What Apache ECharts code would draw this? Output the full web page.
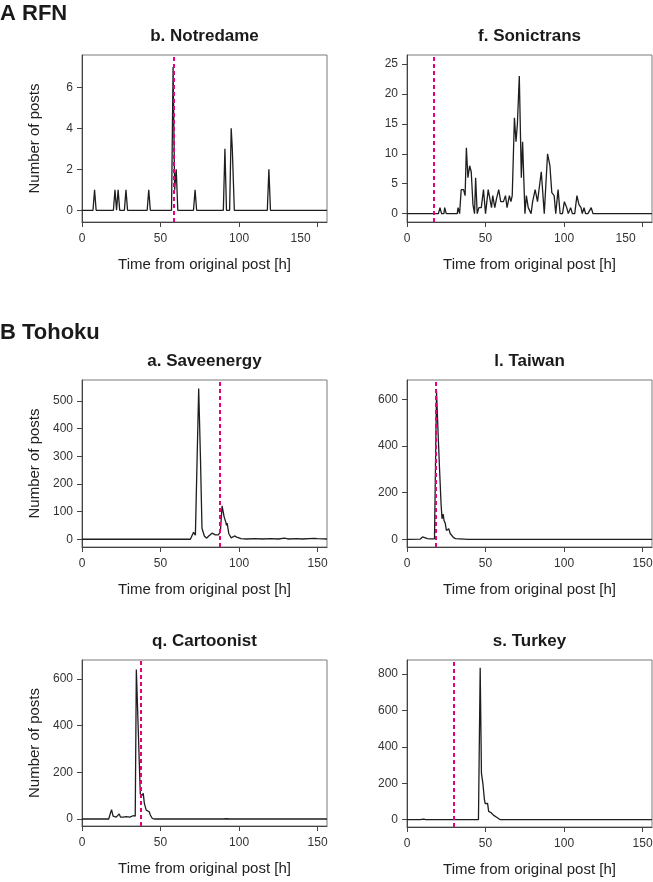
<!DOCTYPE html>
<html>
<head>
<meta charset="utf-8">
<script src="https://cdn.jsdelivr.net/npm/echarts@6/dist/echarts.min.js"></script>
<style>
  html, body { margin: 0; padding: 0; background: #fff; }
  #main { width: 653px; height: 882px; }
</style>
</head>
<body>
<div id="main"></div>
<script>
// hours from original post / number of posts
const notreHours = [0, 7, 8, 9, 20, 21, 22, 23, 24, 27, 28, 29, 41.5, 42.5, 43.5, 57, 58, 59, 60, 61, 71, 72, 73, 90, 91, 92, 94, 95, 95.7, 97, 118, 119, 120, 156];
const notrePosts = [0, 0, 1, 0, 0, 1, 0, 1, 0, 0, 1, 0, 0, 1, 0, 0, 7, 1, 2, 0, 0, 1, 0, 0, 3, 0, 0, 4, 3, 0, 0, 2, 0, 0];

const sonicHours = [0, 20, 21, 22, 23.5, 24, 25, 32, 32.5, 33.5, 34.5, 36, 37, 37.8, 38.8, 39.9, 40.9, 42, 43, 43.7, 44.7, 45.8, 47.3, 48.7, 50, 51.7, 52.7, 53.8, 54.6, 55.9, 57, 58.4, 59.7, 61.4, 62.7, 63.7, 65.2, 66.2, 67, 68.4, 69.4, 70.3, 71.5, 72.8, 73.6, 75.1, 76, 77.2, 78.3, 79, 80, 81.6, 83.1, 84.2, 85.5, 87.4, 89.5, 91, 92.2, 93.7, 94.7, 96.2, 97.5, 99, 100.2, 101.7, 102.7, 104.2, 105.3, 106.8, 108.2, 109.5, 110.8, 111.6, 112.7, 113.7, 115.2, 117.3, 118.4, 156];
const sonicPosts = [0, 0, 1, 0, 0, 1, 0, 0, 1, 0, 4, 4, 3, 11, 6, 8, 7, 1.5, 0, 6, 0, 1, 1, 4, 0, 4, 4, 1, 3, 1, 2.5, 4, 2, 2, 3, 1, 3, 2, 3, 16, 12, 15, 23, 6, 12, 0, 3, 1, 1, 0, 2, 4, 2, 2, 7, 0, 10, 8, 3.5, 3, 0, 4, 0, 0, 2, 1, 0, 1, 0, 0, 3, 1.5, 1, 0, 1, 0, 0, 1, 0, 0];

const saveHours = [0, 69, 70, 71, 72.2, 74.3, 75.4, 76.4, 77.9, 79.4, 80.7, 82.8, 84.9, 86.8, 88.1, 89.2, 90.5, 91.5, 92, 92.4, 93.5, 95, 97.1, 98.5, 101.2, 105, 110, 115, 120, 125, 129, 131, 137, 140, 148, 150, 156];
const savePosts = [0, 0, 3, 25, 15, 545, 300, 40, 12, 4, 12, 22, 16, 16, 26, 121, 81, 63, 50, 58, 20, 5, 12, 8, 2, 1, 2, 1, 2, 1, 4, 1, 2, 1, 3, 2, 1];

const taiwanHours = [0, 8.5, 9.9, 11, 13, 15, 17.5, 18.2, 18.8, 20, 20.8, 21.7, 22.3, 23, 23.6, 24.3, 25.1, 26, 26.6, 27.5, 28.3, 29.5, 30.8, 32, 39, 40, 41, 45, 46, 47, 51, 52, 53, 61, 62, 63, 110, 111, 112, 156];
const taiwanPosts = [0, 1, 10, 2, 3, 2, 2, 0, 635, 420, 290, 150, 88, 108, 80, 70, 38, 45, 45, 25, 20, 8, 3, 0, 0, 3, 0, 0, 2, 0, 0, 3, 0, 0, 2, 0, 0, 2, 0, 0];

const cartoonHours = [0, 17, 18, 18.8, 19.8, 20.8, 21.8, 22.6, 23.7, 24.5, 25.3, 26.5, 28, 29, 30.5, 31.5, 32.5, 33.3, 33.9, 34.6, 37.1, 37.5, 38.3, 39, 39.7, 40.9, 42, 42.8, 43.5, 44.7, 46, 54, 55, 56, 59, 60, 61, 68, 69, 70, 90, 91, 92, 94, 147, 148, 149, 156];
const cartoonPosts = [0, 0, 8, 40, 12, 14, 8, 12, 22, 8, 12, 8, 10, 7, 8, 6, 14, 10, 12, 640, 110, 96, 100, 110, 67, 38, 38, 31, 17, 3, 0, 0, 2, 0, 0, 2, 0, 0, 3, 0, 0, 5, 1, 0, 0, 1, 0, 0];

const turkeyHours = [0, 8.5, 9.5, 10.5, 12, 20, 30, 40, 45.5, 45.8, 46.6, 47.4, 48.3, 49.3, 49.8, 50.8, 51.3, 52, 53, 53.6, 55, 56, 57.3, 58.5, 59.4, 67, 68, 69, 79, 80, 81, 86, 87, 88, 156];
const turkeyPosts = [0, 1, 8, 3, 1, 1, 1, 1, 0, 2, 835, 256, 200, 110, 88, 86, 90, 46, 42, 38, 25, 18, 12, 4, 0, 0, 3, 0, 0, 3, 0, 0, 2, 0, 0];

const panelTitles = ['b. Notredame', 'f. Sonictrans', 'a. Saveenergy', 'l. Taiwan', 'q. Cartoonist', 's. Turkey'];
const eventHours = [58.3, 17, 88, 18.4, 37.7, 29.5];
const xTicks = [0, 50, 100, 150];
const yTicks = [
  [0, 2, 4, 6],
  [0, 5, 10, 15, 20, 25],
  [0, 100, 200, 300, 400, 500],
  [0, 200, 400, 600],
  [0, 200, 400, 600],
  [0, 200, 400, 600, 800]
];
const yRanges = [[-0.57, 7.58], [-1.4, 26.5], [-28, 576], [-33, 683], [-30, 681], [-40, 877]];

const hoursList = [notreHours, sonicHours, saveHours, taiwanHours, cartoonHours, turkeyHours];
const postsList = [notrePosts, sonicPosts, savePosts, taiwanPosts, cartoonPosts, turkeyPosts];

const font = '"Liberation Sans", Arial, Helvetica, sans-serif';
const boxes = [
  {left: 82, top: 55, width: 245, height: 167},
  {left: 407, top: 55, width: 245, height: 167},
  {left: 82, top: 380, width: 245, height: 167},
  {left: 407, top: 380, width: 245, height: 167},
  {left: 82, top: 660, width: 245, height: 166},
  {left: 407, top: 660, width: 245, height: 167}
];

let grids = [], xAxes = [], yAxes = [], series = [], graphics = [];

boxes.forEach(function(b, i) {
  grids.push({
    left: b.left, top: b.top, width: b.width, height: b.height,
    show: true, borderColor: '#7a7a7a', borderWidth: 1,
    containLabel: false, outerBoundsMode: 'none'
  });
  const topRow = i < 2;
  xAxes.push({
    type: 'value', gridIndex: i, min: 0, max: 156,
    name: 'Time from original post [h]', nameLocation: 'middle', nameGap: 35,
    nameTextStyle: {fontFamily: font, fontSize: 15, color: '#222'},
    axisLine: {show: true, onZero: false, lineStyle: {color: '#444', width: 1}},
    axisTick: {show: true, length: 5, customValues: xTicks, lineStyle: {color: '#444'}},
    axisLabel: {
      customValues: xTicks, margin: 11, fontFamily: font, fontSize: 12, color: '#333',
      hideOverlap: false,
      formatter: function(v) { return (topRow && v === 150) ? '{s|150}' : String(v); },
      rich: {s: {fontFamily: font, fontSize: 12, color: '#333', padding: [0, 34, 0, 0]}}
    },
    splitLine: {show: false}
  });
  yAxes.push({
    type: 'value', gridIndex: i, min: yRanges[i][0], max: yRanges[i][1],
    name: (i % 2 === 0) ? 'Number of posts' : '', nameLocation: 'middle', nameGap: 40,
    nameTextStyle: {fontFamily: font, fontSize: 15, color: '#222'},
    axisLine: {show: true, onZero: false, lineStyle: {color: '#444', width: 1}},
    axisTick: {show: true, length: 5, customValues: yTicks[i], lineStyle: {color: '#444'}},
    axisLabel: {customValues: yTicks[i], margin: 9, fontFamily: font, fontSize: 12, color: '#333'},
    splitLine: {show: false}
  });
  series.push({
    type: 'line', xAxisIndex: i, yAxisIndex: i,
    data: hoursList[i].map(function(h, k) { return [h, postsList[i][k]]; }),
    showSymbol: false, symbol: 'none',
    lineStyle: {color: '#1e1e1e', width: 1.3},
    markLine: {
      silent: true, symbol: ['none', 'none'], label: {show: false},
      lineStyle: {color: '#e5007f', width: 2, type: [4, 3]},
      data: [{xAxis: eventHours[i]}]
    }
  });
  graphics.push({
    type: 'text', x: b.left + b.width / 2, y: b.top - 19,
    style: {text: panelTitles[i], fontFamily: font, fontSize: 17, fontWeight: 'bold',
      fill: '#1a1a1a', align: 'center', verticalAlign: 'middle'}
  });
});

graphics.push({
  type: 'text', x: 0, y: 14,
  style: {text: 'A RFN', fontFamily: font, fontSize: 22, fontWeight: 'bold', fill: '#1a1a1a', align: 'left', verticalAlign: 'middle'}
});
graphics.push({
  type: 'text', x: 0, y: 333,
  style: {text: 'B Tohoku', fontFamily: font, fontSize: 22, fontWeight: 'bold', fill: '#1a1a1a', align: 'left', verticalAlign: 'middle'}
});

let myChart = echarts.init(document.getElementById('main'), null, {renderer: 'canvas'});
myChart.setOption({
  animation: false,
  backgroundColor: '#fff',
  grid: grids,
  xAxis: xAxes,
  yAxis: yAxes,
  series: series,
  graphic: graphics
});
</script>
</body>
</html>
